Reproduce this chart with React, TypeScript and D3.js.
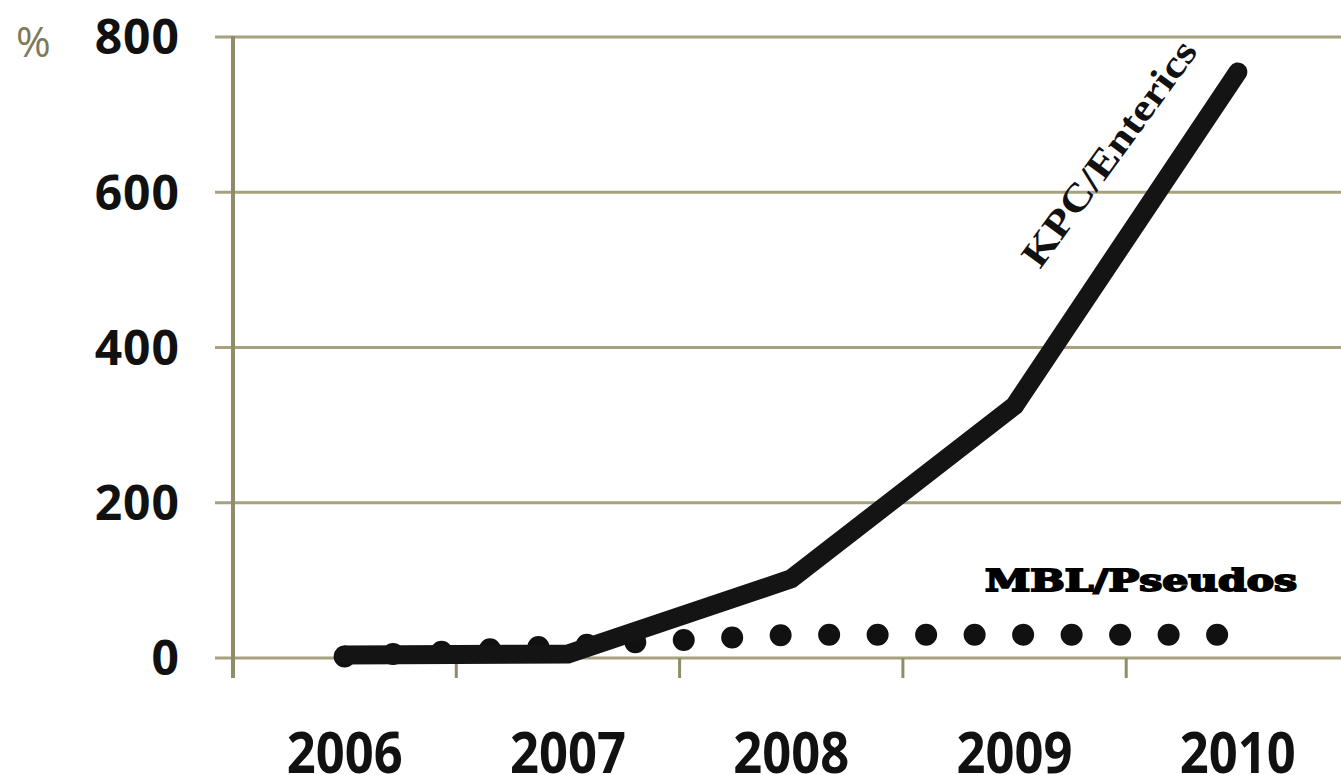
import React from "react";
import * as d3 from "d3";

const years = ["2006", "2007", "2008", "2009", "2010"];
const kpcEnterics = [4, 5, 102, 325, 755];
const mblPseudos = [2, 16, 30, 30, 30];
const yTicks = [0, 200, 400, 600, 800];

const W = 1341;
const H = 775;
const left = 233;
const step = 223.3;
const grid = "#a6a27d";
const axisCol = "#8f8c6a";

export default function App() {
  const x = d3
    .scaleBand<string>()
    .domain(years)
    .range([left, left + step * years.length])
    .padding(0);
  const y = d3.scaleLinear().domain([0, 800]).range([658, 37]);
  const cx = (d: string) => (x(d) as number) + x.bandwidth() / 2;

  const line = d3
    .line<number>()
    .x((_, i) => cx(years[i]))
    .y((v) => y(v));

  const boundaries = years.map((d) => x(d) as number).concat([left + step * years.length]);

  return (
    <svg
      width={W}
      height={H}
      style={{ position: "absolute", left: 0, top: 0, display: "block", background: "#fff" }}
    >
      {/* horizontal gridlines with outward ticks */}
      {yTicks.map((t) => (
        <line key={"g" + t} x1={215} x2={W} y1={y(t)} y2={y(t)} stroke={grid} strokeWidth={3} />
      ))}
      {/* y axis */}
      <line x1={left} x2={left} y1={y(800) - 1} y2={y(0) + 20} stroke={axisCol} strokeWidth={4} />
      {/* x axis ticks at category boundaries */}
      {boundaries.map((b, i) => (
        <line key={"t" + i} x1={b} x2={b} y1={y(0)} y2={y(0) + 20} stroke={axisCol} strokeWidth={3} />
      ))}

      {/* y tick labels */}
      {yTicks.map((t) => (
        <text
          key={"yl" + t}
          x={180}
          y={y(t)}
          dy="0.36em"
          textAnchor="end"
          fontFamily="'Open Sans', sans-serif"
          fontWeight={700}
          fontSize={48}
          letterSpacing={1}
          fill="#111"
        >
          {t}
        </text>
      ))}
      <text x={16} y={57} fontFamily="'Open Sans', sans-serif" fontSize={42} fill="#7d7a5a">
        %
      </text>

      {/* x tick labels */}
      {years.map((d) => (
        <text
          key={"xl" + d}
          x={cx(d) - 58}
          y={773}
          fontFamily="'Open Sans', sans-serif"
          fontWeight={700}
          fontSize={58}
          textLength={116}
          lengthAdjust="spacingAndGlyphs"
          fill="#111"
        >
          {d}
        </text>
      ))}

      {/* MBL/Pseudos: round-dot line */}
      <path
        d={line(mblPseudos) || ""}
        fill="none"
        stroke="#111"
        strokeWidth={22}
        strokeLinecap="round"
        strokeDasharray="0 48.5"
      />
      {/* KPC/Enterics: heavy solid line */}
      <path
        d={line(kpcEnterics) || ""}
        fill="none"
        stroke="#141414"
        strokeWidth={19}
        strokeLinecap="round"
        strokeLinejoin="miter"
      />

      {/* series labels */}
      <text
        transform="translate(1040,270) rotate(-54)"
        fontFamily="'Liberation Serif', 'DejaVu Serif', serif"
        fontWeight={700}
        fontSize={38}
        textLength={270}
        lengthAdjust="spacingAndGlyphs"
        fill="#111"
      >
        KPC/Enterics
      </text>
      <text
        x={985}
        y={591}
        fontFamily="'DejaVu Serif', serif"
        fontWeight={700}
        fontSize={29}
        textLength={312}
        lengthAdjust="spacingAndGlyphs"
        fill="#000"
        stroke="#000"
        strokeWidth={1.8}
      >
        MBL/Pseudos
      </text>
    </svg>
  );
}
